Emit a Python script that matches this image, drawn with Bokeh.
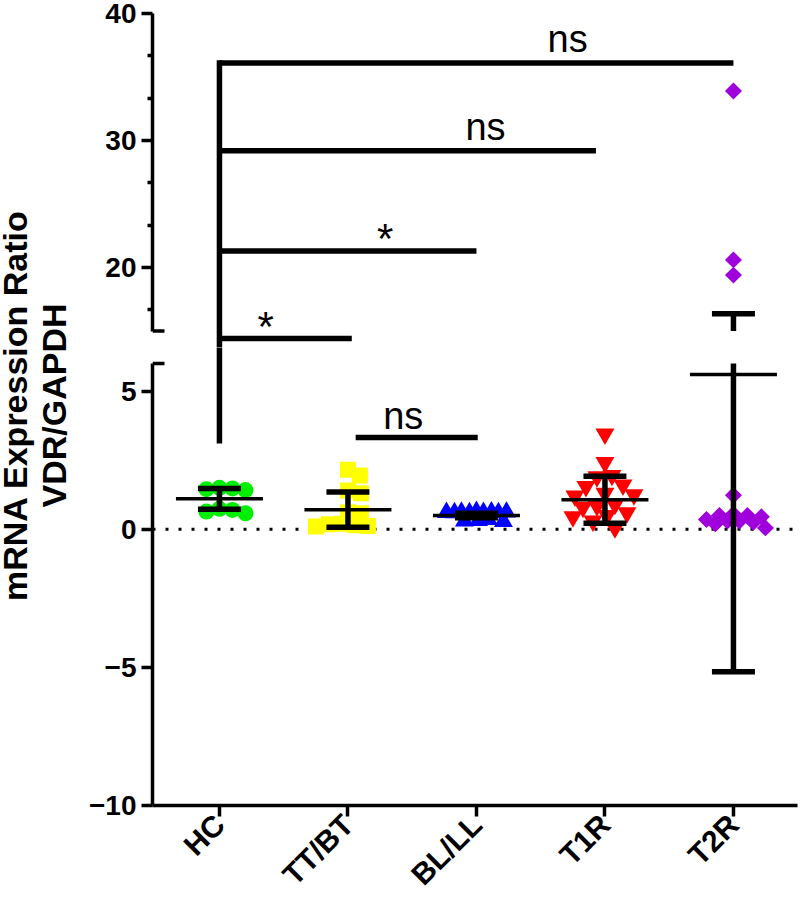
import numpy as np
from bokeh.plotting import figure
from bokeh.layouts import row, column
from bokeh.models import Range1d, FixedTicker
from bokeh.core.properties import value
from bokeh.embed import file_html
from bokeh.resources import INLINE

# ---------------- data ----------------
categories = ["HC", "TT/BT", "BL/LL", "T1R", "T2R"]
hc = [1.45, 1.50, 1.42, 1.48, 0.74, 0.64, 0.58, 0.70]
tt_bt = [1.95, 2.15, 1.40, 1.30, 0.62, 0.58, 0.18, 0.12, 0.10, 0.15, 0.20]
bl_ll = [0.62, 0.60, 0.63, 0.61, 0.60, 0.62, 0.61, 0.64, 0.60, 0.35, 0.30, 0.32, 0.28]
t1r = [3.45, 2.42, 1.95, 1.90, 1.60, 1.55, 1.30, 1.25, 1.20, 0.90, 0.85, 0.80,
       0.60, 0.50, 0.45, 0.30, 0.05]
t2r = [33.9, 20.6, 19.4, 1.23, 0.55, 0.50, 0.50, 0.45, 0.35, 0.30, 0.30, 0.25, 0.20, 0.05]
means = [1.10, 0.71, 0.50, 1.07, 5.60]
sds = [0.38, 0.64, 0.08, 0.85, 10.76]

upper_ticks = [20, 30, 40]
lower_ticks = [-10, -5, 0, 5]
upper_bounds = (15, 40)
lower_bounds = (-10, 6)

# significance brackets (upper-segment units for the four long ones)
bracket_levels = [14.4, 21.3, 29.2, 36.1]
bracket_ends = [2.03, 3.0, 3.93, 5.0]
bracket_text = ["*", "*", "ns", "ns"]
bracket_text_x = [1.36, 2.29, 3.07, 3.71]
stem_low = 3.1
pair_bracket = [2.06, 3.01]
pair_level = 3.32
pair_text_x = 2.43

# ---------------- styles ----------------
colors = ["#00EE00", "#FFFF00", "#0000FF", "#FF0000", "#A000DC"]
markers = ["circle", "square", "triangle", "inverted_triangle", "square"]
msizes = [16, 16, 19, 19, 12]
csizes = [16, 16, 18, 18, 17]
angles = [0, 0, 0, 0, np.pi / 4]
FONT = "Liberation Sans"

LABEL_W = 80
MAIN_W = 718
BORDER_L = 72
BORDER_R = 1
TOP_H = 347
TOP_B = 13
BOT_H = 559
BOT_B = 101
TOP_SCALE = 12.7

frame_w = MAIN_W - BORDER_L - BORDER_R
x_lo = 0.479
x_hi = x_lo + frame_w / 128.5
px_x = frame_w / (x_hi - x_lo)
xr = Range1d(x_lo, x_hi)

top_lo = upper_bounds[1] - (TOP_H - TOP_B) / TOP_SCALE
bot_frame_h = BOT_H - BOT_B
bot_hi = lower_bounds[1] + 16 / 27.6
BOT_SCALE = bot_frame_h / (bot_hi - lower_bounds[0])


def make_fig(h, yr, bt, bb):
    p = figure(width=MAIN_W, height=h, x_range=xr, y_range=yr,
               output_backend="svg", toolbar_location=None,
               min_border_left=BORDER_L, min_border_right=BORDER_R,
               min_border_top=bt, min_border_bottom=bb)
    p.outline_line_color = None
    p.xgrid.visible = False
    p.ygrid.visible = False
    p.background_fill_color = "white"
    p.border_fill_color = "white"
    return p


top = make_fig(TOP_H, Range1d(top_lo, upper_bounds[1]), TOP_B, 0)
bot = make_fig(BOT_H, Range1d(lower_bounds[0], bot_hi), 0, BOT_B)
top.xaxis.visible = False


def style_axis(ax, size="28px"):
    ax.axis_line_width = 3.5
    ax.axis_line_color = "black"
    ax.major_tick_line_width = 3.5
    ax.minor_tick_line_width = 3.5
    ax.major_tick_out = 11
    ax.major_tick_in = 0
    ax.minor_tick_out = 5
    ax.minor_tick_in = 0
    ax.major_label_text_font = FONT
    ax.major_label_text_font_style = "bold"
    ax.major_label_text_font_size = size
    ax.major_label_text_color = "black"
    ax.major_label_standoff = 5


minor_up = [m + k * 10 / 3 for m in (10, 20, 30) for k in (1, 2)]
minor_up = [v for v in minor_up if upper_bounds[0] <= v <= upper_bounds[1]]
top.yaxis.ticker = FixedTicker(ticks=upper_ticks, minor_ticks=minor_up)
top.yaxis.bounds = upper_bounds
style_axis(top.yaxis[0])

bot.yaxis.ticker = FixedTicker(ticks=lower_ticks, minor_ticks=[])
bot.yaxis.bounds = lower_bounds
style_axis(bot.yaxis[0])

xs = np.arange(1, len(categories) + 1, dtype=float)
bot.xaxis.ticker = FixedTicker(ticks=list(xs), minor_ticks=[])
bot.xaxis.major_label_overrides = {float(x): c for x, c in zip(xs, categories)}
bot.xaxis.major_label_orientation = np.pi / 4
style_axis(bot.xaxis[0], "30px")
bot.xaxis.major_label_standoff = 3

# break caps on the y axis
cap_len = 12 / px_x
top.segment(x0=[x_lo], y0=[upper_bounds[0]], x1=[x_lo + cap_len], y1=[upper_bounds[0]],
            line_width=3.5, line_color="black")
bot.segment(x0=[x_lo], y0=[lower_bounds[1]], x1=[x_lo + cap_len], y1=[lower_bounds[1]],
            line_width=3.5, line_color="black")

# dotted zero line
bot.line(x=[x_lo, x_hi], y=[0, 0], line_color="black", line_width=3,
         line_dash="3 10")


# ---------------- beeswarm in pixel space ----------------
def to_px(v):
    if v >= upper_bounds[0]:
        return TOP_B + (upper_bounds[1] - v) * TOP_SCALE
    return TOP_H + (bot_hi - v) * BOT_SCALE


def swarm(vals, size, maxhalf=32):
    order = np.argsort([to_px(v) for v in vals])
    placed = []
    offs = np.zeros(len(vals))
    D = 0.8 * size
    cands = [0]
    for k in range(1, maxhalf + 1):
        cands += [k, -k]
    for i in order:
        py = to_px(vals[i])
        best, best_d = None, -1
        for c in cands:
            if placed:
                d = min(np.hypot(c - ox, py - oy) for ox, oy in placed)
            else:
                d = 1e9
            if d >= D:
                best = c
                break
            if d > best_d:
                best_d, best = d, c
        offs[i] = best
        placed.append((best, py))
    return offs


groups = [hc, tt_bt, bl_ll, t1r, t2r]
for gi, vals in enumerate(groups):
    vals_a = np.array(vals, dtype=float)
    offs = swarm(vals, csizes[gi])
    gx = xs[gi] + offs / px_x
    hi = vals_a >= upper_bounds[0]
    for fig, mask in ((top, hi), (bot, ~hi)):
        if mask.any():
            fig.scatter(x=gx[mask], y=vals_a[mask], marker=markers[gi],
                        size=msizes[gi], angle=angles[gi],
                        fill_color=colors[gi], line_color=None)

# ---------------- mean +/- SD ----------------
m = np.array(means)
s = np.array(sds)
up = m + s
dn = m - s
cap_w = 21.5 / px_x
mean_w = 43.5 / px_x
for fig, (lo, hi_) in ((top, upper_bounds), (bot, lower_bounds)):
    v0 = np.clip(dn, lo, hi_)
    v1 = np.clip(up, lo, hi_)
    k = v1 > v0
    fig.segment(x0=xs[k], y0=v0[k], x1=xs[k], y1=v1[k], line_width=5.5, line_color="black")
    caps = np.concatenate([up, dn])
    capx = np.concatenate([xs, xs])
    k = (caps >= lo) & (caps <= hi_)
    fig.segment(x0=capx[k] - cap_w, y0=caps[k], x1=capx[k] + cap_w, y1=caps[k],
                line_width=5.5, line_color="black")
    k = (m >= lo) & (m <= hi_)
    fig.segment(x0=xs[k] - mean_w, y0=m[k], x1=xs[k] + mean_w, y1=m[k],
                line_width=3.5, line_color="black")

# ---------------- significance brackets ----------------
x_hc = xs[0]
top.segment(x0=[x_hc], y0=[0.0], x1=[x_hc], y1=[bracket_levels[-1]],
            line_width=5.5, line_color="black", line_cap="square")
bot.segment(x0=[x_hc], y0=[stem_low], x1=[x_hc], y1=[bot_hi + 5],
            line_width=5.5, line_color="black")
top.segment(x0=[x_hc] * len(bracket_levels), y0=bracket_levels,
            x1=bracket_ends, y1=bracket_levels,
            line_width=5.5, line_color="black")
is_star = np.array([t == "*" for t in bracket_text])
lv = np.array(bracket_levels)
tx = np.array(bracket_text_x)
tt = np.array(bracket_text)
top.text(x=tx[~is_star], y=lv[~is_star], text=list(tt[~is_star]), y_offset=-24,
         text_align="center", text_baseline="alphabetic", text_color="black",
         text_font=value(FONT), text_font_size="38px")
top.text(x=tx[is_star], y=lv[is_star], text=list(tt[is_star]), y_offset=-12,
         text_align="center", text_baseline="alphabetic", text_color="black",
         text_font=value(FONT), text_font_size="42px")

bot.segment(x0=[pair_bracket[0]], y0=[pair_level], x1=[pair_bracket[1]], y1=[pair_level],
            line_width=5.5, line_color="black")
bot.text(x=[pair_text_x], y=[pair_level], text=["ns"], y_offset=-22,
         text_align="center", text_baseline="alphabetic", text_color="black",
         text_font=value(FONT), text_font_size="38px")

# ---------------- y-axis title (spans both segments) ----------------
TOTAL_H = TOP_H + BOT_H
lab = figure(width=LABEL_W, height=TOTAL_H, x_range=Range1d(0, LABEL_W),
             y_range=Range1d(0, TOTAL_H), output_backend="svg", toolbar_location=None,
             x_axis_location=None, y_axis_location=None,
             min_border_left=0, min_border_right=0, min_border_top=0, min_border_bottom=0)
lab.outline_line_color = None
lab.xgrid.visible = False
lab.ygrid.visible = False
title_lines = ["mRNA Expression Ratio", "VDR/GAPDH"]
lab.text(x=[14, 53], y=[TOTAL_H - 405] * 2, text=title_lines, angle=np.pi / 2,
         text_align="center", text_baseline="alphabetic", text_color="black",
         text_font=value(FONT), text_font_style="bold", text_font_size="34px")

layout = row(lab, column(top, bot, spacing=0), spacing=0)
open("out.html", "w").write(file_html(layout, INLINE))
